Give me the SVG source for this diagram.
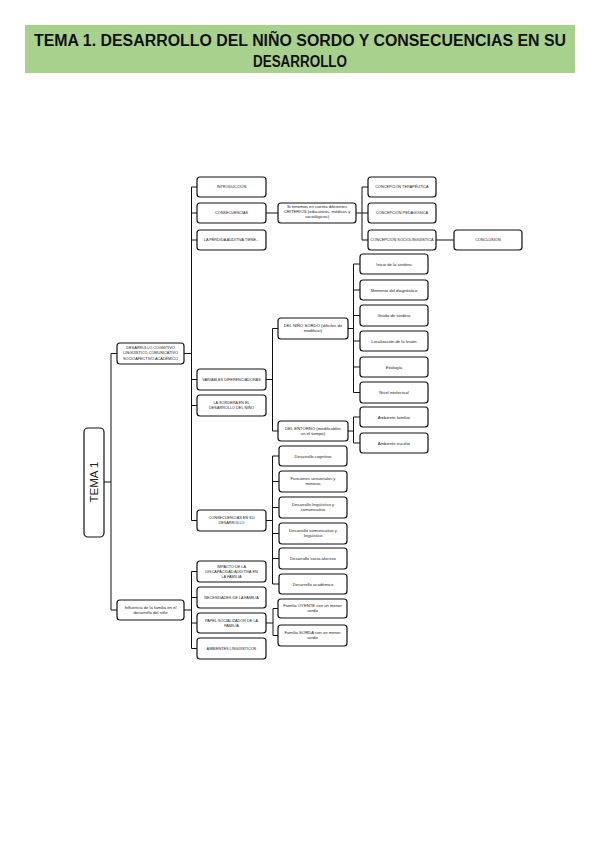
<svg xmlns="http://www.w3.org/2000/svg" width="600" height="848" viewBox="0 0 600 848">
<style>
.bg{fill:#ffffff}
.title{font-family:"Liberation Sans",Arial,sans-serif;font-weight:bold;font-size:16px;fill:#111;text-anchor:middle}
.box{fill:#ffffff;stroke:#111;stroke-width:1.2}
.t{font-family:"Liberation Sans",Arial,sans-serif;font-size:4.2px;fill:#222;text-anchor:middle}
.ts{font-family:"Liberation Sans",Arial,sans-serif;font-size:3.8px;fill:#222;text-anchor:middle}
.big{font-family:"Liberation Sans",Arial,sans-serif;font-size:11.5px;fill:#222;text-anchor:middle}
.con{fill:none;stroke:#111;stroke-width:1}
</style>
<rect class="bg" x="0" y="0" width="600" height="848"/>
<g id="title">
<rect x="25" y="25" width="550" height="48" fill="#a9d18e"/>
<text class="title" x="300" y="46" textLength="532" lengthAdjust="spacingAndGlyphs">TEMA 1. DESARROLLO DEL NIÑO SORDO Y CONSECUENCIAS EN SU</text>
<text class="title" x="300" y="67" textLength="94" lengthAdjust="spacingAndGlyphs">DESARROLLO</text>
</g>
<g id="connectors">
<path class="con" d="M104,482 H111 M111,353.5 V610 M111,353.5 H117 M111,610 H117"/>
<path class="con" d="M184,353.5 H191.5 M191.5,187 V520.5 M191.5,187 H197 M191.5,213 H197 M191.5,240 H197 M191.5,379.5 H197 M191.5,405.5 H197 M191.5,520.5 H197"/>
<path class="con" d="M184,610 H191.5 M191.5,571.5 V648.5 M191.5,571.5 H197 M191.5,597.5 H197 M191.5,623 H197 M191.5,648.5 H197"/>
<path class="con" d="M266,213 H278"/>
<path class="con" d="M356,213 H362 M362,187 V240 M362,187 H368 M362,213 H368 M362,240 H368"/>
<path class="con" d="M436,240 H454"/>
<path class="con" d="M266,379.5 H272.5 M272.5,328.5 V431 M272.5,328.5 H278 M272.5,431 H278"/>
<path class="con" d="M348,328.5 H353.5 M353.5,264 V392.5 M353.5,264 H360 M353.5,290 H360 M353.5,315.5 H360 M353.5,341 H360 M353.5,367 H360 M353.5,392.5 H360"/>
<path class="con" d="M348,431 H353.5 M353.5,417 V443 M353.5,417 H360 M353.5,443 H360"/>
<path class="con" d="M266,520.5 H272.5 M272.5,456 V584 M272.5,456 H279 M272.5,481.5 H279 M272.5,507.5 H279 M272.5,533.5 H279 M272.5,558.5 H279 M272.5,584 H279"/>
<path class="con" d="M266,623 H273 M273,608.5 V635.5 M273,608.5 H278 M273,635.5 H278"/>
</g>
<g id="tema1">
<rect class="box" x="84" y="428" width="20" height="109" rx="4"/>
<text class="big" x="94" y="486" transform="rotate(-90 94 482)">TEMA 1</text>
</g>
<g id="desarrollo">
<rect class="box" x="117" y="343" width="67" height="21" rx="3"/>
<text class="ts"><tspan x="150.5" y="349.2">DESARROLLO COGNITIVO</tspan><tspan x="150.5" y="354.4">LINGÜÍSTICO-COMUNICATIVO</tspan><tspan x="150.5" y="359.6">SOCIOAFECTIVO ACADÉMICO</tspan></text>
</g>
<g id="influencia">
<rect class="box" x="117" y="600" width="67" height="20" rx="3"/>
<text class="t"><tspan x="150.5" y="608.8">Influencia de la familia en el</tspan><tspan x="150.5" y="613.8">desarrollo del niño</tspan></text>
</g>
<g id="introduccion">
<rect class="box" x="197" y="177" width="69" height="20" rx="3"/>
<text class="ts" x="231.5" y="188.4">INTRODUCCIÓN</text>
</g>
<g id="consecuencias">
<rect class="box" x="197" y="203" width="69" height="20" rx="3"/>
<text class="ts" x="231.5" y="214.4">CONSECUENCIAS</text>
</g>
<g id="perdida">
<rect class="box" x="197" y="230" width="69" height="20" rx="3"/>
<text class="ts" x="231.5" y="241.4">LA PÉRDIDA AUDITIVA TIENE...</text>
</g>
<g id="variables">
<rect class="box" x="197" y="369" width="69" height="21" rx="3"/>
<text class="ts" x="231.5" y="380.9">VARIABLES DIFERENCIADORAS</text>
</g>
<g id="sordera">
<rect class="box" x="197" y="395" width="69" height="21" rx="3"/>
<text class="ts"><tspan x="231.5" y="404.3">LA SORDERA EN EL</tspan><tspan x="231.5" y="409.3">DESARROLLO DEL NIÑO</tspan></text>
</g>
<g id="consecuencias-desarrollo">
<rect class="box" x="197" y="510" width="69" height="21" rx="3"/>
<text class="ts"><tspan x="231.5" y="519.3">CONSECUENCIAS EN SU</tspan><tspan x="231.5" y="524.3">DESARROLLO</tspan></text>
</g>
<g id="impacto">
<rect class="box" x="197" y="561" width="69" height="21" rx="3"/>
<text class="ts"><tspan x="231.5" y="567.8">IMPACTO DE LA</tspan><tspan x="231.5" y="572.8">DISCAPACIDAD AUDITIVA EN</tspan><tspan x="231.5" y="577.8">LA FAMILIA</tspan></text>
</g>
<g id="necesidades">
<rect class="box" x="197" y="587" width="69" height="21" rx="3"/>
<text class="ts" x="231.5" y="598.9">NECESIDADES DE LA FAMILIA</text>
</g>
<g id="papel">
<rect class="box" x="197" y="613" width="69" height="20" rx="3"/>
<text class="ts"><tspan x="231.5" y="621.8">PAPEL SOCIALIZADOR DE LA</tspan><tspan x="231.5" y="626.8">FAMILIA</tspan></text>
</g>
<g id="ambientes">
<rect class="box" x="197" y="638" width="69" height="21" rx="3"/>
<text class="ts" x="231.5" y="649.9">AMBIENTES LINGÜÍSTICOS</text>
</g>
<g id="criterios">
<rect class="box" x="278" y="203" width="78" height="20" rx="3"/>
<text class="t"><tspan x="317" y="208.3">Si tenemos en cuenta diferentes</tspan><tspan x="317" y="213.3">CRITERIOS (educativos, médicos y</tspan><tspan x="317" y="218.3">sociológicos)</tspan></text>
</g>
<g id="terapeutica">
<rect class="box" x="368" y="177" width="68" height="20" rx="3"/>
<text class="ts" x="402" y="188.4">CONCEPCIÓN TERAPÉUTICA</text>
</g>
<g id="pedagogica">
<rect class="box" x="368" y="203" width="68" height="20" rx="3"/>
<text class="ts" x="402" y="214.4">CONCEPCIÓN PEDAGÓGICA</text>
</g>
<g id="sociolinguistica">
<rect class="box" x="368" y="230" width="68" height="20" rx="3"/>
<text class="ts" x="402" y="241.4">CONCEPCIÓN SOCIOLINGÜÍSTICA</text>
</g>
<g id="conclusion">
<rect class="box" x="454" y="230" width="68" height="20" rx="3"/>
<text class="ts" x="488" y="241.4">CONCLUSIÓN</text>
</g>
<g id="nino-sordo">
<rect class="box" x="278" y="318" width="70" height="21" rx="3"/>
<text class="t"><tspan x="313" y="327.3">DEL NIÑO SORDO (difíciles de</tspan><tspan x="313" y="332.3">modificar)</tspan></text>
</g>
<g id="entorno">
<rect class="box" x="278" y="421" width="70" height="20" rx="3"/>
<text class="t"><tspan x="313" y="429.8">DEL ENTORNO (modificables</tspan><tspan x="313" y="434.8">en el tiempo)</tspan></text>
</g>
<g id="inicio">
<rect class="box" x="360" y="254" width="68" height="20" rx="3"/>
<text class="t" x="394" y="265.5">Inicio de la sordera</text>
</g>
<g id="momento">
<rect class="box" x="360" y="280" width="68" height="20" rx="3"/>
<text class="t" x="394" y="291.5">Momento del diagnóstico</text>
</g>
<g id="grado">
<rect class="box" x="360" y="305" width="68" height="21" rx="3"/>
<text class="t" x="394" y="317">Grado de sordera</text>
</g>
<g id="localizacion">
<rect class="box" x="360" y="331" width="68" height="20" rx="3"/>
<text class="t" x="394" y="342.5">Localización de la lesión</text>
</g>
<g id="etiologia">
<rect class="box" x="360" y="357" width="68" height="20" rx="3"/>
<text class="t" x="394" y="368.5">Etiología</text>
</g>
<g id="nivel">
<rect class="box" x="360" y="382" width="68" height="21" rx="3"/>
<text class="t" x="394" y="394">Nivel intelectual</text>
</g>
<g id="ambiente-familiar">
<rect class="box" x="360" y="407" width="68" height="20" rx="3"/>
<text class="t" x="394" y="418.5">Ambiente familiar</text>
</g>
<g id="ambiente-escolar">
<rect class="box" x="360" y="433" width="68" height="20" rx="3"/>
<text class="t" x="394" y="444.5">Ambiente escolar</text>
</g>
<g id="cognitivo">
<rect class="box" x="279" y="446" width="68" height="20" rx="3"/>
<text class="t" x="313" y="457.5">Desarrollo cognitivo</text>
</g>
<g id="funciones">
<rect class="box" x="279" y="471" width="68" height="21" rx="3"/>
<text class="t"><tspan x="313" y="480.3">Funciones sensoriales y</tspan><tspan x="313" y="485.3">motoras</tspan></text>
</g>
<g id="linguistico">
<rect class="box" x="279" y="497" width="68" height="21" rx="3"/>
<text class="t"><tspan x="313" y="506.3">Desarrollo lingüístico y</tspan><tspan x="313" y="511.3">comunicativo</tspan></text>
</g>
<g id="comunicativo">
<rect class="box" x="279" y="523" width="68" height="21" rx="3"/>
<text class="t"><tspan x="313" y="532.3">Desarrollo comunicativo y</tspan><tspan x="313" y="537.3">lingüístico</tspan></text>
</g>
<g id="socioafectivo">
<rect class="box" x="279" y="548" width="68" height="21" rx="3"/>
<text class="t" x="313" y="560">Desarrollo socio-afectivo</text>
</g>
<g id="academico">
<rect class="box" x="279" y="574" width="68" height="20" rx="3"/>
<text class="t" x="313" y="585.5">Desarrollo académico</text>
</g>
<g id="familia-oyente">
<rect class="box" x="278" y="599" width="69" height="19" rx="3"/>
<text class="t"><tspan x="312.5" y="607.3">Familia OYENTE con un menor</tspan><tspan x="312.5" y="612.3">sordo</tspan></text>
</g>
<g id="familia-sorda">
<rect class="box" x="278" y="625" width="69" height="21" rx="3"/>
<text class="t"><tspan x="312.5" y="634.3">Familia SORDA con un menor</tspan><tspan x="312.5" y="639.3">sordo</tspan></text>
</g>
</svg>
